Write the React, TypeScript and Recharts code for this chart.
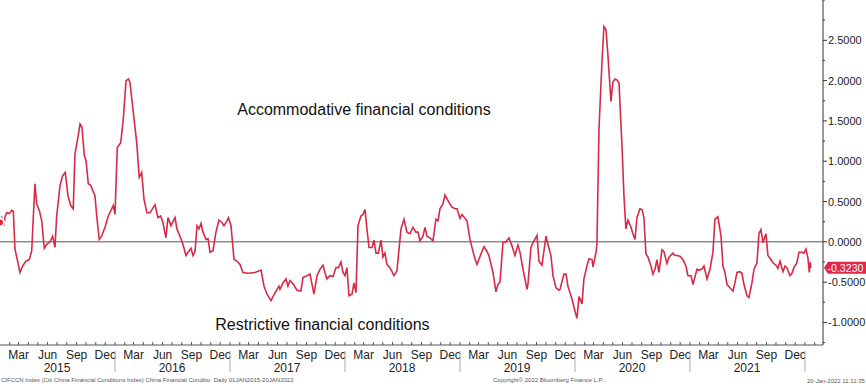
import React from "react";
import { LineChart, Line, XAxis, YAxis, ReferenceLine, ReferenceDot } from "recharts";

// CIFCCN Index; dates as fractional years
const dates = [
  2015.0, 2015.015, 2015.029, 2015.035, 2015.043, 2015.058, 2015.081, 2015.102, 2015.116, 2015.13,
  2015.15, 2015.174, 2015.197, 2015.226, 2015.255, 2015.276, 2015.29, 2015.304, 2015.319, 2015.342,
  2015.363, 2015.385, 2015.406, 2015.435, 2015.458, 2015.478, 2015.493, 2015.522, 2015.545, 2015.568,
  2015.591, 2015.615, 2015.637, 2015.652, 2015.672, 2015.696, 2015.713, 2015.733, 2015.748, 2015.768,
  2015.789, 2015.826, 2015.841, 2015.863, 2015.884, 2015.913, 2015.942, 2015.985, 2016.0, 2016.02,
  2016.05, 2016.072, 2016.096, 2016.116, 2016.13, 2016.159, 2016.189, 2016.211, 2016.232, 2016.252,
  2016.278, 2016.304, 2016.348, 2016.374, 2016.397, 2016.417, 2016.443, 2016.461, 2016.487, 2016.522,
  2016.539, 2016.565, 2016.591, 2016.617, 2016.635, 2016.661, 2016.678, 2016.696, 2016.713, 2016.73,
  2016.748, 2016.765, 2016.791, 2016.809, 2016.826, 2016.852, 2016.878, 2016.904, 2016.93, 2016.948,
  2016.974, 2016.987, 2017.009, 2017.035, 2017.061, 2017.087, 2017.113, 2017.157, 2017.217, 2017.27,
  2017.296, 2017.322, 2017.357, 2017.374, 2017.409, 2017.426, 2017.435, 2017.461, 2017.487, 2017.504,
  2017.522, 2017.548, 2017.583, 2017.617, 2017.635, 2017.67, 2017.696, 2017.73, 2017.757, 2017.783,
  2017.809, 2017.826, 2017.843, 2017.87, 2017.896, 2017.922, 2017.943, 2017.965, 2017.983, 2018.0,
  2018.017, 2018.035, 2018.061, 2018.078, 2018.096, 2018.113, 2018.139, 2018.157, 2018.174, 2018.191,
  2018.209, 2018.235, 2018.252, 2018.27, 2018.291, 2018.313, 2018.33, 2018.348, 2018.365, 2018.391,
  2018.426, 2018.452, 2018.487, 2018.513, 2018.539, 2018.565, 2018.591, 2018.617, 2018.635, 2018.652,
  2018.678, 2018.696, 2018.713, 2018.739, 2018.765, 2018.791, 2018.809, 2018.826, 2018.852, 2018.87,
  2018.896, 2018.93, 2018.957, 2018.974, 2019.0, 2019.017, 2019.061, 2019.087, 2019.122, 2019.148,
  2019.191, 2019.209, 2019.235, 2019.252, 2019.287, 2019.313, 2019.33, 2019.348, 2019.374, 2019.4,
  2019.426, 2019.452, 2019.478, 2019.504, 2019.522, 2019.548, 2019.583, 2019.591, 2019.617, 2019.635,
  2019.67, 2019.687, 2019.713, 2019.748, 2019.765, 2019.791, 2019.809, 2019.835, 2019.861, 2019.87,
  2019.904, 2019.922, 2019.939, 2019.974, 2020.0, 2020.017, 2020.035, 2020.061, 2020.078, 2020.104,
  2020.122, 2020.148, 2020.157, 2020.183, 2020.191, 2020.209, 2020.235, 2020.252, 2020.27, 2020.287,
  2020.313, 2020.33, 2020.348, 2020.365, 2020.383, 2020.409, 2020.426, 2020.443, 2020.461, 2020.487,
  2020.504, 2020.522, 2020.539, 2020.565, 2020.583, 2020.6, 2020.617, 2020.635, 2020.661, 2020.678,
  2020.696, 2020.713, 2020.73, 2020.757, 2020.774, 2020.8, 2020.817, 2020.852, 2020.87, 2020.887,
  2020.913, 2020.939, 2020.965, 2020.983, 2021.009, 2021.026, 2021.061, 2021.078, 2021.104, 2021.122,
  2021.148, 2021.174, 2021.2, 2021.217, 2021.243, 2021.27, 2021.287, 2021.304, 2021.322, 2021.348,
  2021.374, 2021.391, 2021.409, 2021.435, 2021.452, 2021.47, 2021.496, 2021.513, 2021.539, 2021.557,
  2021.583, 2021.6, 2021.617, 2021.635, 2021.661, 2021.678, 2021.704, 2021.722, 2021.748, 2021.765,
  2021.783, 2021.809, 2021.826, 2021.843, 2021.87, 2021.887, 2021.904, 2021.93, 2021.948, 2021.974,
  2021.991, 2022.009, 2022.026, 2022.038, 2022.046, 2022.052,
];

const cfci = [
  0.24, 0.3, 0.24, 0.2, 0.31, 0.36, 0.35, 0.39, 0.38, -0.09,
  -0.22, -0.38, -0.3, -0.24, -0.22, -0.11, 0.32, 0.72, 0.47, 0.39,
  0.26, -0.08, -0.03, 0.0, 0.07, -0.07, 0.32, 0.7, 0.82, 0.86,
  0.57, 0.45, 0.41, 1.09, 1.25, 1.46, 1.42, 1.07, 1.01, 0.72,
  0.7, 0.57, 0.32, 0.03, 0.07, 0.18, 0.32, 0.45, 0.34, 1.17,
  1.23, 1.52, 2.0, 2.02, 1.98, 1.61, 1.23, 0.8, 0.86, 0.53,
  0.36, 0.36, 0.46, 0.3, 0.32, 0.24, 0.05, 0.3, 0.2, 0.3,
  0.16, 0.07, -0.03, -0.17, -0.13, -0.08, -0.17, -0.12, 0.2, 0.16,
  0.23, 0.12, 0.03, 0.04, -0.13, -0.11, 0.12, 0.27, 0.24, 0.2,
  0.26, 0.3, 0.2, -0.22, -0.24, -0.28, -0.38, -0.39, -0.38, -0.35,
  -0.55, -0.65, -0.73, -0.68, -0.59, -0.55, -0.59, -0.51, -0.46, -0.55,
  -0.48, -0.52, -0.6, -0.61, -0.44, -0.42, -0.4, -0.65, -0.42, -0.34,
  -0.29, -0.38, -0.46, -0.42, -0.43, -0.32, -0.32, -0.25, -0.38, -0.42,
  -0.32, -0.67, -0.65, -0.51, -0.63, 0.2, 0.32, 0.34, 0.4, 0.16,
  -0.07, -0.07, 0.02, -0.14, -0.14, 0.02, -0.19, -0.14, -0.28, -0.32,
  -0.42, -0.36, 0.16, 0.28, 0.12, 0.1, 0.18, 0.12, 0.12, 0.01,
  0.07, 0.18, 0.07, 0.05, 0.01, 0.28, 0.26, 0.41, 0.47, 0.58,
  0.51, 0.43, 0.41, 0.41, 0.29, 0.34, 0.26, 0.03, -0.17, -0.28,
  -0.12, -0.06, -0.12, -0.17, -0.38, -0.62, -0.53, -0.5, -0.01, 0.0,
  0.05, -0.05, -0.17, -0.04, -0.13, -0.34, -0.59, -0.53, -0.07, -0.01,
  0.08, -0.24, -0.29, 0.07, -0.03, -0.17, -0.42, -0.57, -0.6, -0.59,
  -0.4, -0.4, -0.55, -0.71, -0.86, -0.95, -0.68, -0.77, -0.46, -0.3,
  -0.21, -0.22, -0.31, -0.13, -0.03, 1.4, 2.23, 2.67, 2.63, 2.31,
  1.74, 1.98, 2.02, 2.01, 1.97, 1.19, 0.57, 0.16, 0.27, 0.18,
  0.1, 0.03, 0.3, 0.41, 0.4, 0.3, -0.15, -0.19, -0.3, -0.4,
  -0.34, -0.22, -0.38, -0.1, -0.12, -0.27, -0.19, -0.14, -0.17, -0.17,
  -0.18, -0.22, -0.3, -0.42, -0.42, -0.53, -0.34, -0.35, -0.34, -0.3,
  -0.46, -0.34, -0.13, 0.28, 0.31, 0.07, -0.3, -0.38, -0.53, -0.57,
  -0.61, -0.51, -0.38, -0.37, -0.39, -0.53, -0.67, -0.69, -0.51, -0.34,
  -0.26, 0.1, 0.15, -0.01, 0.1, -0.17, -0.22, -0.26, -0.29, -0.33,
  -0.24, -0.37, -0.3, -0.32, -0.42, -0.39, -0.32, -0.26, -0.13, -0.13,
  -0.14, -0.09, -0.2, -0.38, -0.25, -0.323,
];

const lastValue = -0.323;
const xMin = 2015;
const xMax = 2022.157;
const yTicks = [-1.25, -1, -0.75, -0.5, -0.25, 0, 0.25, 0.5, 0.75, 1, 1.25, 1.5, 1.75, 2, 2.25, 2.5, 2.75, 3];
const monthNames = ["Jan", "Feb", "Mar", "Apr", "May", "Jun", "Jul", "Aug", "Sep", "Oct", "Nov", "Dec"];
const monthStartDay = [0, 31, 59, 90, 120, 151, 181, 212, 243, 273, 304, 334];
const labelledMonths = [2, 5, 8, 11];
const years = [2015, 2016, 2017, 2018, 2019, 2020, 2021];

const data = dates.map((t, i) => ({ t, v: cfci[i] }));

const monthTicks: number[] = [];
const monthOf = new Map<number, number>();
for (const y of [...years, 2022]) {
  monthStartDay.forEach((d, m) => {
    const t = y + d / 365;
    if (t > xMin && t < xMax) {
      monthTicks.push(t);
      monthOf.set(t, m);
    }
  });
}

const yearTicks: number[] = [];
const yearKind = new Map<number, string>();
years.forEach((y) => {
  yearTicks.push(y + 0.496);
  yearKind.set(y + 0.496, String(y));
  yearTicks.push(y + 1);
  yearKind.set(y + 1, "sep");
});

const narrow = "'Liberation Sans Narrow', 'Arial Narrow', 'Liberation Sans', Arial, sans-serif";
const sans = "'Liberation Sans', Arial, sans-serif";
const red = "#d62a47";

const MonthTick = (props: any) => {
  const { x, y, payload } = props;
  const m = monthOf.get(payload.value);
  return (
    <g>
      <line x1={x} x2={x} y1={y} y2={y - 3} stroke="#555" />
      {m !== undefined && labelledMonths.includes(m) && (
        <text x={x} y={y + 14} textAnchor="middle" fontSize={12} fontFamily={narrow} fill="#222">
          {monthNames[m]}
        </text>
      )}
    </g>
  );
};

const YearTick = (props: any) => {
  const { x, y, payload } = props;
  const kind = yearKind.get(payload.value);
  if (kind === "sep") {
    return <line x1={x} x2={x} y1={y - 7} y2={y + 14} stroke="#aaa" />;
  }
  return (
    <text x={x} y={y + 14} textAnchor="middle" fontSize={12} fontFamily={narrow} fill="#222">
      {kind}
    </text>
  );
};

const ValueTick = (props: any) => {
  const { x, y, payload } = props;
  const v = payload.value;
  const major = Math.abs(v * 2 - Math.round(v * 2)) < 1e-6 && v < 2.9;
  return (
    <g>
      <line x1={x} x2={x + (major ? 4 : 2)} y1={y} y2={y} stroke="#333" />
      {major && (
        <text x={x + 5} y={y + 4} fontSize={11} fontFamily={sans} fill="#222">
          {v.toFixed(4)}
        </text>
      )}
    </g>
  );
};

const EndTag = (props: any) => {
  const { cx, cy } = props;
  return (
    <g>
      <polygon
        points={`${cx + 1},${cy} ${cx + 5},${cy - 6} ${cx + 43},${cy - 6} ${cx + 43},${cy + 6} ${cx + 5},${cy + 6}`}
        fill="#e0284a"
      />
      <text x={cx + 4.5} y={cy + 4} fontSize={10.6} fontFamily={sans} fill="#fff">
        {lastValue.toFixed(4)}
      </text>
    </g>
  );
};

const Note = (text: string) => (props: any) => (
  <text x={props.cx} y={props.cy} textAnchor="middle" dominantBaseline="central" fontSize={16} fontFamily={sans} fill="#111">
    {text}
  </text>
);

export default function App() {
  return (
    <div style={{ position: "fixed", left: 0, top: 0, width: 866, height: 387, background: "#fff", overflow: "hidden" }}>
      <LineChart width={866} height={387} data={data} margin={{ top: 0, right: 0, bottom: 13, left: 0 }}>
        <XAxis
          dataKey="t"
          type="number"
          domain={[xMin, xMax]}
          allowDataOverflow
          ticks={monthTicks}
          interval={0}
          tick={<MonthTick />}
          tickLine={false}
          tickSize={0}
          tickMargin={0}
          height={13}
          axisLine={{ stroke: "#555" }}
        />
        <XAxis
          xAxisId="year"
          dataKey="t"
          type="number"
          domain={[xMin, xMax]}
          allowDataOverflow
          ticks={yearTicks}
          interval={0}
          tick={<YearTick />}
          tickLine={false}
          tickSize={0}
          tickMargin={0}
          height={16}
          axisLine={false}
        />
        <YAxis
          orientation="right"
          type="number"
          domain={[-1.28, 3]}
          allowDataOverflow
          ticks={yTicks}
          interval={0}
          tick={<ValueTick />}
          tickLine={false}
          tickSize={0}
          tickMargin={0}
          width={43}
          axisLine={{ stroke: "#333" }}
        />
        <ReferenceLine y={0} stroke="#555" strokeWidth={1} />
        <ReferenceDot x={2018.165} y={1.64} r={0} shape={Note("Accommodative financial conditions")} />
        <ReferenceDot x={2017.804} y={-1.02} r={0} shape={Note("Restrictive financial conditions")} />
        <Line
          type="linear"
          dataKey="v"
          stroke={red}
          strokeWidth={1.6}
          dot={false}
          isAnimationActive={false}
        />
        <ReferenceDot x={xMax} y={lastValue} r={0} shape={EndTag} />
      </LineChart>
      <div style={{ position: "absolute", left: 1, top: 377, fontSize: 6, fontFamily: sans, color: "#555", whiteSpace: "nowrap" }}>
        CIFCCN Index (Citi China Financial Conditions Index) China Financial Conditio&nbsp; Daily 01JAN2015-20JAN2022
      </div>
      <div style={{ position: "absolute", left: 493, top: 377, fontSize: 6, fontFamily: sans, color: "#555", whiteSpace: "nowrap" }}>
        Copyright© 2022 Bloomberg Finance L.P.
      </div>
      <div style={{ position: "absolute", left: 807, top: 378, fontSize: 6, fontFamily: sans, color: "#555", whiteSpace: "nowrap" }}>
        20-Jan-2022 11:11:35
      </div>
    </div>
  );
}
